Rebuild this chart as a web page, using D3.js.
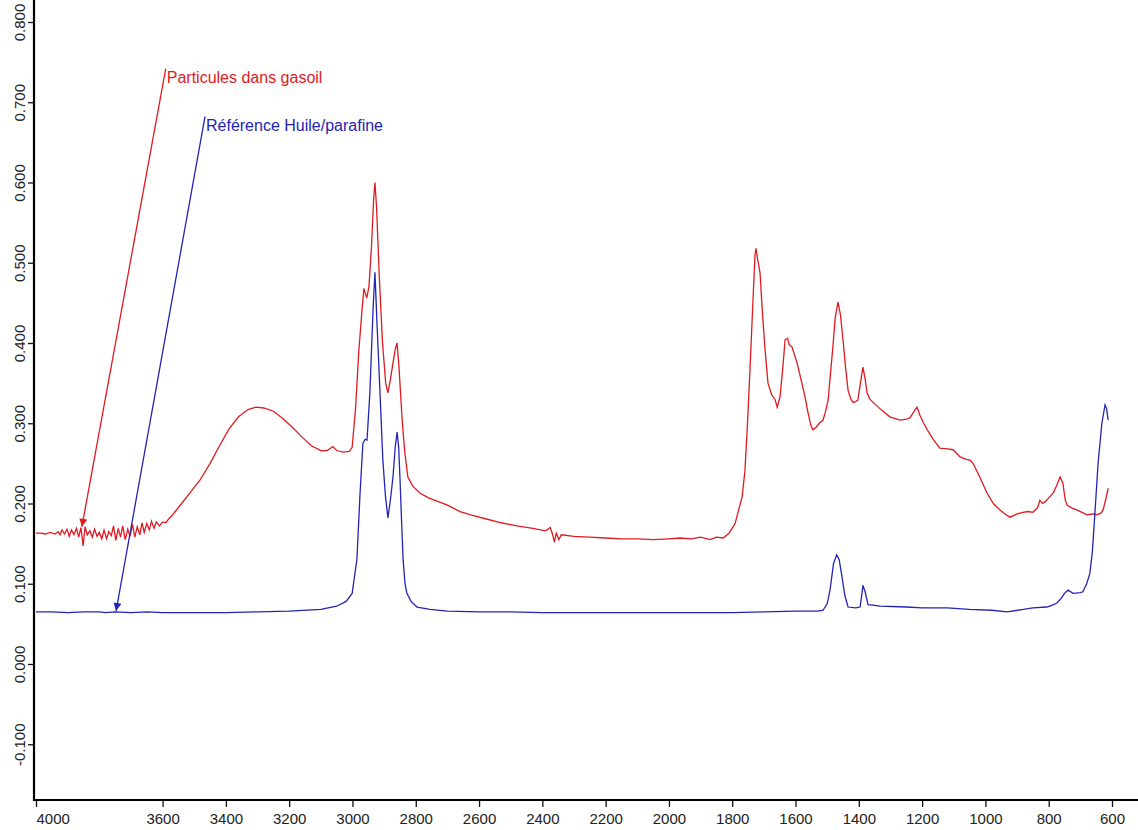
<!DOCTYPE html>
<html>
<head>
<meta charset="utf-8">
<script src="https://d3js.org/d3.v7.min.js"></script>
<style>
  body { margin: 0; background: #fff; }
  text { font-family: "Liberation Sans", Arial, sans-serif; }
</style>
</head>
<body>
<div id="chart"></div>
<script>
// spectra: [wavenumber cm-1, absorbance]
var particulesGasoil = [
  [4000,0.163],[3985,0.163],[3970,0.162],[3955,0.164],[3940,0.162],[3930,0.165],[3924,0.161],[3918,0.167],
  [3910,0.162],[3902,0.168],[3895,0.159],[3888,0.167],[3880,0.161],[3872,0.169],[3865,0.158],[3858,0.170],
  [3851,0.147],[3845,0.171],[3838,0.161],[3830,0.166],[3822,0.158],[3815,0.168],[3807,0.159],[3800,0.164],
  [3792,0.156],[3785,0.167],[3777,0.156],[3770,0.165],[3762,0.160],[3755,0.172],[3748,0.154],[3740,0.169],
  [3733,0.158],[3726,0.172],[3718,0.155],[3710,0.168],[3703,0.159],[3695,0.174],[3688,0.158],[3680,0.171],
  [3672,0.161],[3665,0.176],[3658,0.164],[3650,0.175],[3642,0.167],[3635,0.178],[3627,0.169],[3620,0.177],
  [3610,0.172],[3600,0.177],[3590,0.176],[3580,0.181],[3570,0.185],[3560,0.190],[3550,0.195],[3530,0.205],
  [3510,0.215],[3482,0.229],[3450,0.250],[3420,0.272],[3390,0.293],[3360,0.308],[3330,0.317],[3305,0.320],
  [3280,0.319],[3250,0.315],[3220,0.306],[3190,0.295],[3160,0.283],[3130,0.272],[3100,0.266],[3080,0.266],
  [3062,0.271],[3050,0.266],[3030,0.264],[3010,0.265],[3001,0.270],[2990,0.320],[2980,0.390],[2970,0.440],
  [2964,0.468],[2955,0.456],[2948,0.470],[2940,0.520],[2933,0.580],[2929,0.600],[2924,0.570],[2915,0.480],
  [2905,0.400],[2895,0.350],[2888,0.338],[2880,0.355],[2872,0.375],[2865,0.392],[2859,0.400],[2853,0.370],
  [2843,0.304],[2835,0.265],[2825,0.233],[2810,0.222],[2787,0.213],[2760,0.207],[2739,0.204],[2700,0.198],
  [2660,0.190],[2629,0.186],[2580,0.181],[2530,0.176],[2480,0.172],[2430,0.169],[2390,0.166],[2375,0.170],
  [2368,0.162],[2362,0.152],[2356,0.163],[2348,0.155],[2340,0.161],[2300,0.159],[2250,0.158],[2200,0.157],
  [2150,0.156],[2100,0.156],[2050,0.155],[2000,0.156],[1965,0.157],[1930,0.156],[1900,0.158],[1870,0.155],
  [1850,0.158],[1829,0.157],[1810,0.163],[1791,0.175],[1769,0.208],[1760,0.240],[1753,0.290],[1744,0.366],
  [1734,0.457],[1728,0.510],[1725,0.518],[1720,0.505],[1712,0.487],[1705,0.440],[1697,0.395],[1687,0.350],
  [1675,0.335],[1665,0.330],[1658,0.320],[1649,0.333],[1640,0.370],[1633,0.404],[1625,0.406],[1620,0.398],
  [1611,0.395],[1595,0.375],[1580,0.350],[1570,0.333],[1561,0.314],[1552,0.298],[1545,0.292],[1535,0.295],
  [1525,0.300],[1513,0.304],[1505,0.315],[1497,0.329],[1490,0.360],[1482,0.395],[1475,0.430],[1466,0.451],
  [1458,0.435],[1450,0.404],[1442,0.370],[1434,0.341],[1425,0.330],[1418,0.326],[1410,0.327],[1403,0.329],
  [1395,0.350],[1387,0.370],[1380,0.355],[1374,0.338],[1365,0.330],[1355,0.326],[1330,0.317],[1302,0.308],
  [1270,0.304],[1250,0.305],[1238,0.307],[1225,0.315],[1216,0.320],[1207,0.310],[1195,0.300],[1184,0.292],
  [1165,0.280],[1144,0.269],[1120,0.268],[1102,0.267],[1090,0.262],[1080,0.258],[1060,0.255],[1049,0.254],
  [1039,0.250],[1020,0.235],[995,0.213],[975,0.200],[954,0.192],[935,0.186],[922,0.183],[900,0.187],
  [881,0.189],[865,0.190],[850,0.189],[835,0.195],[828,0.204],[820,0.200],[812,0.202],[800,0.207],
  [786,0.213],[775,0.222],[764,0.233],[755,0.225],[748,0.205],[742,0.198],[725,0.194],[711,0.192],
  [695,0.189],[679,0.186],[660,0.187],[648,0.186],[635,0.188],[628,0.192],[620,0.205],[612,0.219]
];

var refHuileParafine = [
  [4000,0.065],[3950,0.065],[3900,0.064],[3850,0.065],[3800,0.065],[3780,0.064],[3750,0.065],[3700,0.064],
  [3650,0.065],[3600,0.064],[3500,0.064],[3400,0.064],[3300,0.065],[3200,0.066],[3100,0.068],[3050,0.072],
  [3020,0.078],[3001,0.088],[2995,0.105],[2986,0.130],[2976,0.213],[2967,0.275],[2960,0.280],[2954,0.279],
  [2945,0.338],[2935,0.441],[2929,0.488],[2922,0.420],[2913,0.338],[2904,0.254],[2896,0.210],[2888,0.182],
  [2880,0.205],[2872,0.233],[2865,0.270],[2859,0.289],[2854,0.270],[2850,0.233],[2845,0.180],[2840,0.130],
  [2834,0.100],[2828,0.088],[2815,0.078],[2796,0.071],[2755,0.068],[2700,0.066],[2600,0.065],[2500,0.065],
  [2400,0.064],[2300,0.064],[2200,0.064],[2100,0.064],[2000,0.064],[1900,0.064],[1800,0.064],[1700,0.065],
  [1600,0.066],[1530,0.066],[1513,0.067],[1500,0.075],[1491,0.092],[1480,0.125],[1470,0.136],[1462,0.130],
  [1453,0.108],[1444,0.085],[1434,0.071],[1410,0.070],[1396,0.071],[1391,0.085],[1387,0.098],[1380,0.090],
  [1371,0.074],[1350,0.073],[1333,0.072],[1250,0.071],[1200,0.070],[1121,0.070],[1050,0.068],[980,0.067],
  [932,0.065],[880,0.068],[850,0.070],[806,0.071],[790,0.073],[774,0.076],[760,0.082],[750,0.088],
  [739,0.092],[723,0.088],[700,0.089],[692,0.090],[680,0.100],[670,0.113],[662,0.140],[654,0.188],
  [644,0.250],[632,0.300],[622,0.323],[617,0.318],[612,0.304]
];

var xTicks = [4000, 3600, 3400, 3200, 3000, 2800, 2600, 2400, 2200, 2000, 1800, 1600, 1400, 1200, 1000, 800, 600];
var yTicks = [-0.1, 0.0, 0.1, 0.2, 0.3, 0.4, 0.5, 0.6, 0.7, 0.8];

// labels with their arrow: label anchor and arrow tip, in data units
var labels = [
  {text: "Particules dans gasoil", color: "#e01a22", wn: 3590, abs: 0.742, tipWn: 3855, tipAbs: 0.171},
  {text: "Référence Huile/parafine", color: "#2424b4", wn: 3466, abs: 0.682, tipWn: 3747, tipAbs: 0.066}
];

var w = 1138, h = 830;
var axisX = 34, axisY = 800;

var x = d3.scaleLinear().domain([4000, 600]).range([36, 1112]);
var y = d3.scaleLinear().domain([0, 0.8]).range([664, 22]);

var svg = d3.select("#chart")
  .append("svg")
  .attr("width", w)
  .attr("height", h);

// arrow heads
var defs = svg.append("defs");
labels.forEach(function(d, i){
  defs.append("marker")
    .attr("id", "arrow" + i)
    .attr("viewBox", "0 0 10 10")
    .attr("refX", 10)
    .attr("refY", 5)
    .attr("markerWidth", 11)
    .attr("markerHeight", 8)
    .attr("markerUnits", "userSpaceOnUse")
    .attr("orient", "auto")
    .append("path")
    .attr("d", "M0,0L10,5L0,10z")
    .attr("fill", d.color);
});

// x axis
var xAxis = d3.axisBottom(x)
  .tickValues(xTicks)
  .tickSize(7)
  .tickPadding(6)
  .tickFormat(d3.format("d"));

var gx = svg.append("g")
  .attr("transform", "translate(0," + axisY + ")")
  .call(xAxis);
gx.select(".domain").remove();
gx.selectAll(".tick line").attr("stroke", "#111").attr("stroke-width", 1.3);
gx.selectAll(".tick text")
  .attr("fill", "#222")
  .style("font-size", "15px")
  .attr("text-anchor", function(d){ return d === 4000 ? "start" : "middle"; });
gx.append("line")
  .attr("x1", axisX).attr("x2", w)
  .attr("y1", 0).attr("y2", 0)
  .attr("stroke", "#000").attr("stroke-width", 2.2);

// y axis
var fmt = d3.format(".3f");
var yAxis = d3.axisLeft(y)
  .tickValues(yTicks)
  .tickSize(6)
  .tickFormat(function(d){ return fmt(d).replace("\u2212", "-"); });

var gy = svg.append("g")
  .attr("transform", "translate(" + axisX + ",0)")
  .call(yAxis);
gy.select(".domain").remove();
gy.selectAll(".tick line").attr("stroke", "#111").attr("stroke-width", 1.3);
gy.selectAll(".tick text")
  .attr("fill", "#222")
  .style("font-size", "15px")
  .attr("text-anchor", "middle")
  .attr("x", 0).attr("dy", 0)
  .attr("transform", "translate(-9,0) rotate(-90)");
gy.append("line")
  .attr("x1", 0).attr("x2", 0)
  .attr("y1", 0).attr("y2", axisY + 1)
  .attr("stroke", "#000").attr("stroke-width", 2.2);

// spectra
var line = d3.line()
  .x(function(d){ return x(d[0]); })
  .y(function(d){ return y(d[1]); });

svg.append("path")
  .datum(particulesGasoil)
  .attr("fill", "none")
  .attr("stroke", "#e01a22")
  .attr("stroke-width", 1.3)
  .attr("d", line);

svg.append("path")
  .datum(refHuileParafine)
  .attr("fill", "none")
  .attr("stroke", "#2424b4")
  .attr("stroke-width", 1.3)
  .attr("d", line);

// labels and leader arrows
labels.forEach(function(d, i){
  svg.append("line")
    .attr("x1", x(d.wn)).attr("y1", y(d.abs))
    .attr("x2", x(d.tipWn)).attr("y2", y(d.tipAbs))
    .attr("stroke", d.color)
    .attr("stroke-width", 1.3)
    .attr("marker-end", "url(#arrow" + i + ")");
  svg.append("text")
    .attr("x", x(d.wn) + 1)
    .attr("y", y(d.abs) + 14)
    .attr("fill", d.color)
    .style("font-size", "16px")
    .text(d.text);
});
</script>
</body>
</html>
